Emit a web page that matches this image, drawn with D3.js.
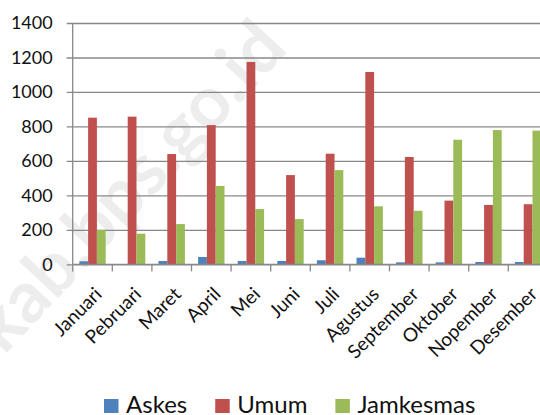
<!DOCTYPE html>
<html>
<head>
<meta charset="utf-8">
<script src="https://cdn.jsdelivr.net/npm/d3@7"></script>
<style>
  html, body { margin: 0; padding: 0; background: #fff; }
  svg { display: block; font-family: Lato, "Open Sans", sans-serif; }
</style>
</head>
<body>
<div id="chart"></div>
<script>
// data
const months = ["Januari", "Pebruari", "Maret", "April", "Mei", "Juni", "Juli", "Agustus", "September", "Oktober", "Nopember", "Desember"];
const seriesNames = ["Askes", "Umum", "Jamkesmas"];
const askes = [18, 0, 20, 43, 20, 20, 24, 39, 12, 12, 14, 14];
const umum = [851, 857, 640, 808, 1174, 518, 642, 1116, 623, 370, 345, 349];
const jamkesmas = [200, 178, 234, 455, 321, 263, 547, 337, 311, 723, 779, 776];
const yTicks = [0, 200, 400, 600, 800, 1000, 1200, 1400];

const colors = ["#4F81BD", "#C0504D", "#9BBB59"];
const values = [askes, umum, jamkesmas];

const width = 540, height = 415;
const plotLeft = 72.7, plotTop = 23, plotBottom = 264.4;
const step = 39.6;

const svg = d3.select("#chart").append("svg")
  .attr("width", width)
  .attr("height", height);

// watermark behind everything
svg.append("text")
  .attr("transform", "translate(4,356) rotate(-47)")
  .attr("font-size", 72)
  .attr("font-weight", "bold")
  .attr("fill", "#ededed")
  .text("kab.bps.go.id");

const x = d3.scaleBand()
  .domain(months)
  .range([plotLeft, plotLeft + step * months.length])
  .paddingInner(0).paddingOuter(0);

const xs = d3.scaleBand()
  .domain(seriesNames)
  .range([0, x.bandwidth()])
  .paddingInner(0)
  .paddingOuter(0.75);

const y = d3.scaleLinear()
  .domain([0, 1400])
  .range([plotBottom, plotTop]);

// gridlines + y labels
const yAxis = svg.append("g")
  .attr("transform", "translate(" + plotLeft + ",0)")
  .call(d3.axisLeft(y).tickValues(yTicks).tickFormat(d3.format("d"))
    .tickSize(-(width - plotLeft)).tickSizeOuter(0).tickPadding(20));
yAxis.select(".domain").remove();
yAxis.selectAll(".tick line")
  .attr("x1", -6)
  .attr("stroke", "#888")
  .attr("stroke-width", 1.3);
yAxis.selectAll(".tick text")
  .attr("font-size", 18)
  .attr("font-family", "Lato, sans-serif")
  .attr("fill", "#111");

// bars
const groups = svg.append("g").selectAll("g")
  .data(seriesNames)
  .join("g")
  .attr("fill", (d, i) => colors[i]);

groups.selectAll("rect")
  .data((s, i) => months.map((m, j) => ({ m: m, s: s, v: values[i][j] })))
  .join("rect")
  .attr("x", d => x(d.m) + xs(d.s))
  .attr("y", d => y(d.v))
  .attr("width", xs.bandwidth())
  .attr("height", d => y(0) - y(d.v));

// y axis line
svg.append("line")
  .attr("x1", plotLeft).attr("x2", plotLeft)
  .attr("y1", plotTop).attr("y2", plotBottom)
  .attr("stroke", "#888").attr("stroke-width", 1.3);

// x axis with ticks at category boundaries
const xAxisG = svg.append("g").attr("transform", "translate(0," + plotBottom + ")");
xAxisG.append("line")
  .attr("x1", plotLeft).attr("x2", width)
  .attr("stroke", "#888").attr("stroke-width", 1.3);
xAxisG.selectAll("line.tk")
  .data(months.concat(["end"]))
  .join("line")
  .attr("class", "tk")
  .attr("x1", (d, i) => plotLeft + i * x.step())
  .attr("x2", (d, i) => plotLeft + i * x.step())
  .attr("y1", 0).attr("y2", 7)
  .attr("stroke", "#888").attr("stroke-width", 1.3);

xAxisG.selectAll("text")
  .data(months)
  .join("text")
  .attr("transform", d => "translate(" + (x(d) + x.bandwidth() / 2 + 10.5) + ",31) rotate(-45)")
  .attr("text-anchor", "end")
  .attr("font-size", 19)
  .attr("fill", "#111")
  .text(d => d);

// legend
const legend = svg.append("g");
let lx = 104;
seriesNames.forEach((s, i) => {
  legend.append("rect")
    .attr("x", lx).attr("y", 399)
    .attr("width", 14.5).attr("height", 14)
    .attr("fill", colors[i]);
  const t = legend.append("text")
    .attr("x", lx + 22).attr("y", 413)
    .attr("font-size", 24)
    .attr("fill", "#111")
    .text(s);
  lx += 22 + t.node().getComputedTextLength() + 28;
});
</script>
</body>
</html>
